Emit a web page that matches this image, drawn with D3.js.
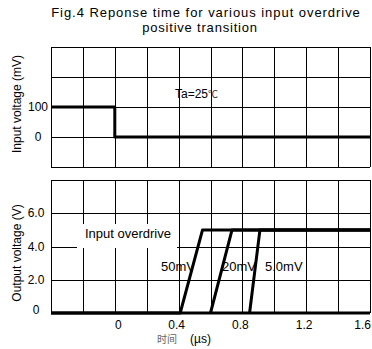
<!DOCTYPE html>
<html>
<head>
<meta charset="utf-8">
<script src="https://cdn.jsdelivr.net/npm/d3@7"></script>
<style>
  body { margin: 0; background: #fff; }
  svg { display: block; font-family: "Liberation Sans", Arial, sans-serif; }
  .grid line { stroke: #000; stroke-width: 1; shape-rendering: crispEdges; }
  .trace { fill: none; stroke: #000; stroke-width: 3; stroke-linejoin: round; }
  .tick-label { font-size: 12px; fill: #000; }
</style>
</head>
<body>
<div id="chart"></div>
<script>
// time axis (µs)
const timeGrid = [-0.4, -0.2, 0, 0.2, 0.4, 0.6, 0.8, 1.0, 1.2, 1.4, 1.6];
const timeTicks = [0, 0.4, 0.8, 1.2, 1.6];
const timeTickLabels = ["0", "0.4", "0.8", "1.2", "1.6"];

// input panel (mV)
const inputGrid = [-100, 0, 100, 200, 300];
const inputTicks = [0, 100];
const inputStep = [[-0.4, 100], [0, 100], [0, 0], [1.6, 0]];

// output panel (V)
const outputGrid = [0, 2, 4, 6, 8];
const outputTicks = [0, 2, 4, 6];
const outputTickLabels = ["0", "2.0", "4.0", "6.0"];
const overdriveNames = ["50mV", "20mV", "5.0mV"];
const overdriveTraces = [
  [[-0.4, 0], [0.41, 0], [0.55, 5], [1.6, 5]],
  [[0.6, 0], [0.735, 5], [1.6, 5]],
  [[0.845, 0], [0.91, 5], [1.6, 5]]
];

const width = 372, height = 349;
const svg = d3.select("#chart").append("svg")
  .attr("width", width).attr("height", height);

const x = d3.scaleLinear().domain([-0.4, 1.6]).range([51, 370]);
const yIn = d3.scaleLinear().domain([-100, 300]).range([167, 47]);
const yOut = d3.scaleLinear().domain([0, 8]).range([313, 180]);

// Title
svg.append("text").attr("x", 206).attr("y", 17).attr("text-anchor", "middle")
  .attr("font-size", 13).attr("letter-spacing", 0.95)
  .text("Fig.4 Reponse time for various input overdrive");
svg.append("text").attr("x", 200).attr("y", 32).attr("text-anchor", "middle")
  .attr("font-size", 13).attr("letter-spacing", 0.8)
  .text("positive transition");

function drawGrid(yScale, yValues) {
  const g = svg.append("g").attr("class", "grid");
  const [y0, y1] = d3.extent(yValues);
  g.selectAll(".v").data(timeGrid).enter().append("line")
    .attr("x1", d => Math.round(x(d)) + 0.5).attr("x2", d => Math.round(x(d)) + 0.5)
    .attr("y1", yScale(y0)).attr("y2", yScale(y1));
  g.selectAll(".h").data(yValues).enter().append("line")
    .attr("x1", x(-0.4)).attr("x2", x(1.6))
    .attr("y1", d => Math.round(yScale(d)) + 0.5).attr("y2", d => Math.round(yScale(d)) + 0.5);
  return g;
}

drawGrid(yIn, inputGrid);
drawGrid(yOut, outputGrid);

// "Input overdrive" label box covers part of grid
svg.append("rect").attr("x", 77).attr("y", 224).attr("width", 100).attr("height", 24)
  .attr("fill", "#fff");
svg.append("text").attr("x", 85).attr("y", 238).attr("font-size", 13)
  .text("Input overdrive");

// Traces
const line = d3.line().x(d => x(d[0]));

svg.append("path").attr("class", "trace")
  .attr("d", line.y(d => yIn(d[1]))(inputStep));

// thick zero line on output panel
svg.append("line").attr("x1", x(-0.4)).attr("x2", x(1.6))
  .attr("y1", yOut(0)).attr("y2", yOut(0))
  .attr("stroke", "#000").attr("stroke-width", 3);

// overdrive labels (under the traces)
const labelX = [161, 222, 265];
svg.selectAll(".od").data(overdriveNames).enter().append("text")
  .attr("x", (d, i) => labelX[i]).attr("y", 271).attr("font-size", 13)
  .text(d => d);

svg.selectAll(".out").data(overdriveTraces).enter().append("path")
  .attr("class", "trace")
  .attr("d", d => line.y(p => yOut(p[1]))(d));

// Ta label
const ta = svg.append("text").attr("x", 175).attr("y", 98).attr("font-size", 12);
ta.append("tspan").text("Ta=25");
ta.append("tspan").attr("font-size", 10).attr("font-family", "Noto Sans CJK SC")
  .attr("fill", "#333").text("\u2103");

// Y tick labels
svg.selectAll(".yin").data(inputTicks).enter().append("text")
  .attr("class", "tick-label").attr("x", 38).attr("y", d => yIn(d) + 4)
  .attr("text-anchor", "middle").text(d => d);
svg.selectAll(".yout").data(outputTicks).enter().append("text")
  .attr("class", "tick-label").attr("x", 36).attr("y", d => yOut(d) + (d === 0 ? 1 : 4))
  .attr("text-anchor", "middle").text((d, i) => outputTickLabels[i]);

// X tick labels
svg.selectAll(".xt").data(timeTicks).enter().append("text")
  .attr("class", "tick-label")
  .attr("x", (d, i) => i === timeTicks.length - 1 ? width - 1 : x(d) + (d === 0 ? 3.5 : -2))
  .attr("y", 329)
  .attr("text-anchor", (d, i) => i === timeTicks.length - 1 ? "end" : "middle")
  .text((d, i) => timeTickLabels[i]);

// Axis titles
svg.append("text").attr("transform", "translate(21,104) rotate(-90)")
  .attr("text-anchor", "middle").attr("font-size", 12).text("Input voltage  (mV)");
svg.append("text").attr("transform", "translate(21,253) rotate(-90)")
  .attr("text-anchor", "middle").attr("font-size", 12).text("Output voltage  (V)");

svg.append("text").attr("x", 157).attr("y", 343).attr("font-size", 10)
  .attr("fill", "#666").attr("font-family", "Noto Sans CJK SC").text("时间");
svg.append("text").attr("x", 190).attr("y", 343).attr("font-size", 12).text("(µs)");
</script>
</body>
</html>
